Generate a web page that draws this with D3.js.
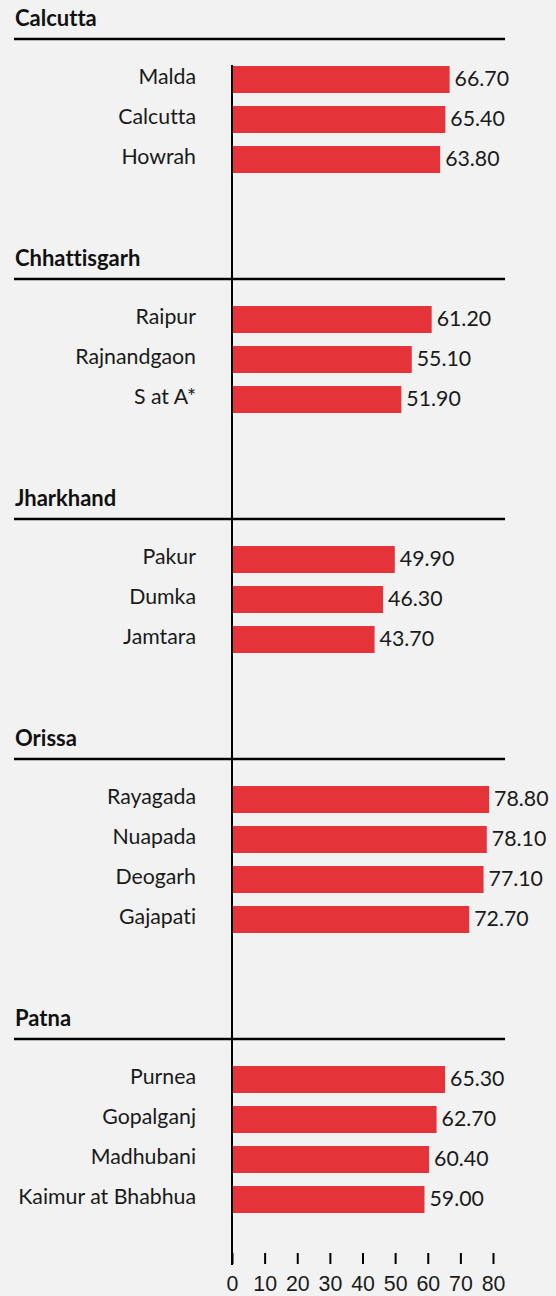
<!doctype html>
<html lang="en">
<head>
  <meta charset="utf-8">
  <title>Districts by state</title>
<style>
body {
  margin: 0;
  background: #f1f2f1;
}
svg {
  display: block;
  font-family: Lato, "Open Sans", sans-serif;
  font-variant-ligatures: none;
}
.title {
  font-weight: bold;
  font-size: 22px;
  fill: #111;
}
.label, .value, .tick text {
  font-size: 21.3px;
  fill: #1a1a1a;
}
</style>
<script src="https://d3js.org/d3.v7.min.js"></script>
</head>
<body>
<div class="chart"></div>
<script>

// data, one list per state
let states = ['Calcutta', 'Chhattisgarh', 'Jharkhand', 'Orissa', 'Patna'];
let districts = [
  ['Malda', 'Calcutta', 'Howrah'],
  ['Raipur', 'Rajnandgaon', 'S at A*'],
  ['Pakur', 'Dumka', 'Jamtara'],
  ['Rayagada', 'Nuapada', 'Deogarh', 'Gajapati'],
  ['Purnea', 'Gopalganj', 'Madhubani', 'Kaimur at Bhabhua']
];
let values = [
  [66.7, 65.4, 63.8],
  [61.2, 55.1, 51.9],
  [49.9, 46.3, 43.7],
  [78.8, 78.1, 77.1, 72.7],
  [65.3, 62.7, 60.4, 59.0]
];
let ticks = [0, 10, 20, 30, 40, 50, 60, 70, 80];

let w = 556, h = 1296;
let step = 40;

let svg = d3.select('.chart').append('svg')
  .attr('width', w)
  .attr('height', h);

let x = d3.scaleLinear().domain([0, 80]).range([232, 493]);

// section tops, each section is header + rows + gap
let tops = [];
let acc = 0;
districts.forEach(function(d) {
  tops.push(acc);
  acc += 120 + step * d.length;
});

let lastBottom = 0;

states.forEach(function(st, i) {
  let s = tops[i];
  let g = svg.append('g');

  g.append('text')
    .attr('class', 'title')
    .attr('x', 15)
    .attr('y', s + 26)
    .text(st);

  g.append('line')
    .attr('x1', 14).attr('x2', 505)
    .attr('y1', s + 39).attr('y2', s + 39)
    .attr('stroke', '#000')
    .attr('stroke-width', 2.5);

  // rows start 66px below the section top
  let y = d3.scaleBand()
    .domain(districts[i])
    .range([s + 59.5, s + 59.5 + step * districts[i].length])
    .paddingInner(0.325)
    .paddingOuter(0.1625);

  let rows = districts[i].map(function(name, j) {
    return { name: name, value: values[i][j] };
  });

  g.selectAll('rect')
    .data(rows)
    .enter()
    .append('rect')
    .attr('x', x(0))
    .attr('y', d => y(d.name))
    .attr('width', d => x(d.value) - x(0))
    .attr('height', y.bandwidth())
    .attr('fill', '#e4343a');

  g.selectAll('.label')
    .data(rows)
    .enter()
    .append('text')
    .attr('class', 'label')
    .attr('x', 196)
    .attr('y', d => y(d.name) + y.bandwidth() / 2)
    .attr('dy', '0.22em')
    .attr('text-anchor', 'end')
    .text(d => d.name);

  g.selectAll('.value')
    .data(rows)
    .enter()
    .append('text')
    .attr('class', 'value')
    .attr('x', d => x(d.value) + 5)
    .attr('y', d => y(d.name) + y.bandwidth() / 2)
    .attr('dy', '0.3em')
    .text(d => d.value.toFixed(2));

  lastBottom = y(rows[rows.length - 1].name) + y.bandwidth();
});

// bottom axis, no domain line
let axisY = lastBottom + 40;
let axis = svg.append('g')
  .attr('transform', 'translate(0,' + axisY + ')')
  .call(d3.axisBottom(x).tickValues(ticks).tickSize(11).tickSizeOuter(0).tickPadding(12));
axis.select('.domain').remove();
axis.selectAll('.tick line')
  .attr('stroke', '#000')
  .attr('stroke-width', 2);
axis.selectAll('.tick text')
  .attr('font-family', null)
  .attr('font-size', null);

// vertical zero line
svg.append('line')
  .attr('x1', x(0)).attr('x2', x(0))
  .attr('y1', tops[0] + 65)
  .attr('y2', axisY + 12)
  .attr('stroke', '#000')
  .attr('stroke-width', 2);

</script>
</body>
</html>
